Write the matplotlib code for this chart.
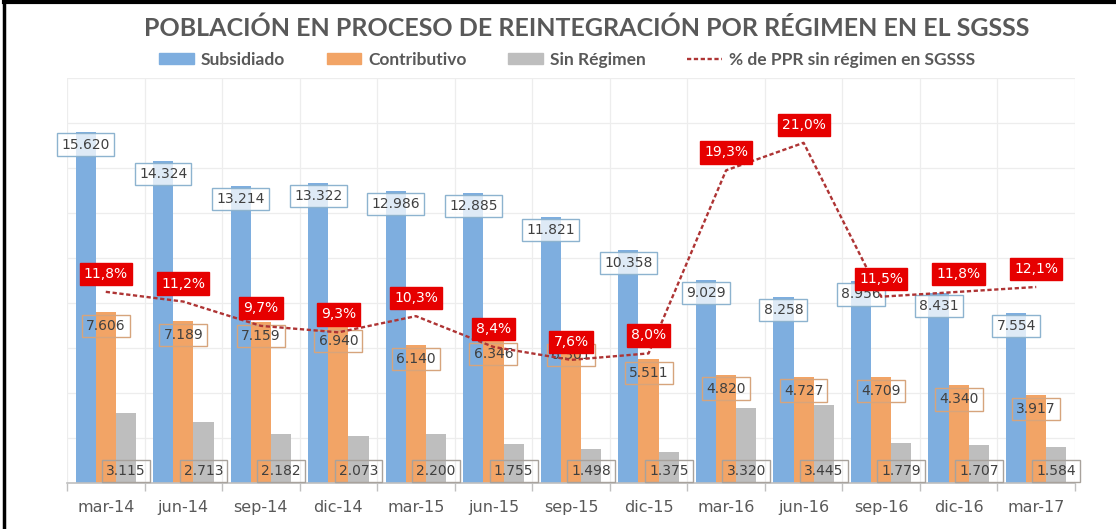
import matplotlib
matplotlib.use('Agg')
import matplotlib.pyplot as plt
import numpy as np
from matplotlib.patches import Patch
from matplotlib.lines import Line2D

categories = ['mar-14', 'jun-14', 'sep-14', 'dic-14', 'mar-15', 'jun-15', 'sep-15',
              'dic-15', 'mar-16', 'jun-16', 'sep-16', 'dic-16', 'mar-17']
subsidiado = [15620, 14324, 13214, 13322, 12986, 12885, 11821, 10358, 9029, 8258, 8956, 8431, 7554]
contributivo = [7606, 7189, 7159, 6940, 6140, 6346, 6301, 5511, 4820, 4727, 4709, 4340, 3917]
sin_regimen = [3115, 2713, 2182, 2073, 2200, 1755, 1498, 1375, 3320, 3445, 1779, 1707, 1584]
pct_sin_regimen = [11.8, 11.2, 9.7, 9.3, 10.3, 8.4, 7.6, 8.0, 19.3, 21.0, 11.5, 11.8, 12.1]
series_names = ['Subsidiado', 'Contributivo', 'Sin Régimen', '% de PPR sin régimen en SGSSS']
title = 'POBLACIÓN EN PROCESO DE REINTEGRACIÓN POR RÉGIMEN EN EL SGSSS'

BLUE = '#7EAEDF'
ORANGE = '#F2A466'
GRAY = '#BEBEBE'
LINE = '#AE3434'
RED = '#E60000'
TXT = '#595959'
DASH = (0, (1.8, 1.1))

W, H = 1116, 529
fig = plt.figure(figsize=(W / 100, H / 100), dpi=100)
fig.patch.set_facecolor('white')

left, right, bottom, top = 67, 1075, 483, 78
ax = fig.add_axes([left / W, 1 - bottom / H, (right - left) / W, (bottom - top) / H])
x = np.arange(len(categories))
w = 0.26

ax.set_xlim(-0.5, len(categories) - 0.5)
ax.set_ylim(0, 18000)
ax.set_yticks(np.arange(0, 18001, 2000))
ax.set_xticks(np.arange(-0.5, len(categories), 1.0), minor=True)
ax.set_xticks(x)
ax.set_xticklabels(categories, fontsize=11.5, color=TXT, family='DejaVu Sans')
ax.tick_params(axis='x', which='major', length=0, pad=12)
ax.tick_params(axis='x', which='minor', length=6, color='#BFBFBF', width=1)
ax.tick_params(axis='y', length=0, labelleft=False)
ax.grid(True, axis='y', color='#EDEDED', lw=0.9, zorder=0)
ax.grid(True, axis='x', which='minor', color='#EDEDED', lw=0.9, zorder=0)
ax.set_axisbelow(True)
for s in ['left', 'right', 'top']:
    ax.spines[s].set_visible(False)
ax.spines['bottom'].set_color('#BFBFBF')
ax.spines['bottom'].set_linewidth(1.2)

ax.bar(x - w, subsidiado, w, color=BLUE, zorder=2)
ax.bar(x, contributivo, w, color=ORANGE, zorder=2)
ax.bar(x + w, sin_regimen, w, color=GRAY, zorder=2)

def fmt(v):
    return f'{v:,}'.replace(',', '.')

lab_kw = dict(ha='center', va='center', fontsize=10, color='#404040',
              textcoords='offset pixels', family='DejaVu Sans', zorder=5)
for xi, v in zip(x, subsidiado):
    ax.annotate(fmt(v), xy=(xi - w, v), xytext=(0, -13),
                bbox=dict(boxstyle='square,pad=0.3', fc=(1, 1, 1, 0.75), ec='#8DB3CF', lw=1),
                **lab_kw)
for xi, v in zip(x, contributivo):
    ax.annotate(fmt(v), xy=(xi, v), xytext=(0, -14),
                bbox=dict(boxstyle='square,pad=0.3', fc='none', ec='#D6A47C', lw=1),
                **lab_kw)
for xi, v in zip(x, sin_regimen):
    ax.annotate(fmt(v), xy=(xi + w, 0), xytext=(0, 12),
                bbox=dict(boxstyle='square,pad=0.3', fc='none', ec='#A8A29C', lw=1),
                **lab_kw)

ax2 = ax.twinx()
ax2.set_ylim(0, 25)
ax2.axis('off')
ax2.plot(x, pct_sin_regimen, color=LINE, lw=1.7, ls=DASH, zorder=3)
for xi, p in zip(x, pct_sin_regimen):
    ax2.annotate(f'{p:.1f}%'.replace('.', ','), xy=(xi, p), xytext=(0, 18),
                 textcoords='offset pixels', ha='center', va='center', fontsize=10,
                 color='white', family='DejaVu Sans', zorder=6,
                 bbox=dict(boxstyle='square,pad=0.3', fc=RED, ec=RED, lw=1))

fig.text(587 / W, 1 - 28 / H, title, ha='center', va='center', fontsize=18,
         fontweight='bold', color=TXT, family='Lato')

handles = [Patch(color=BLUE), Patch(color=ORANGE), Patch(color=GRAY),
           Line2D([], [], color=LINE, lw=1.7, ls=DASH)]
fig.legend(handles, series_names, loc='center', bbox_to_anchor=(567 / W, 1 - 60 / H),
           ncol=4, frameon=False, prop=dict(family='Lato', weight='bold', size=12.5),
           labelcolor=TXT, handlelength=2.0, handleheight=0.6, handletextpad=0.4,
           columnspacing=2.4)

# frame lines (top and left edges, as in the scanned reference)
fig.add_artist(Line2D([4 / W, 4 / W], [0, 1 - 2 / H], transform=fig.transFigure,
                      color='black', lw=2.5))
fig.add_artist(Line2D([4 / W, 1], [1 - 2 / H, 1 - 2 / H], transform=fig.transFigure,
                      color='black', lw=3))

fig.savefig('out.png', dpi=100)
